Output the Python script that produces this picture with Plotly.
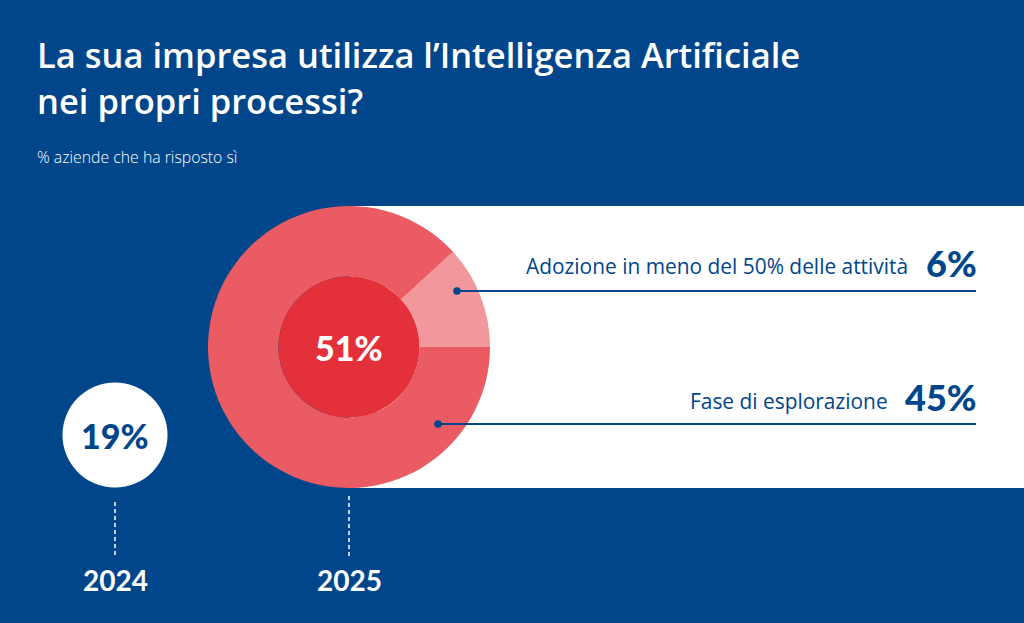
import plotly.graph_objects as go

# ---- data ----
years = ["2024", "2025"]
totals = [19, 51]  # % aziende che ha risposto sì
breakdown_labels = ["Adozione in meno del 50% delle attività", "Fase di esplorazione"]
breakdown_values = [6, 45]

title_lines = ["La sua impresa utilizza l’Intelligenza Artificiale", "nei propri processi?"]
subtitle = "% aziende che ha risposto sì"

# ---- styling / geometry ----
W, H = 1024, 623
BLUE = "#01468B"
RED_MAIN = "#EA5B63"
RED_LIGHT = "#F2979C"
RED_CORE = "#E4303A"
WHITE = "#FFFFFF"
FONT = "Open Sans"
NUM_FONT = "Lato"

R_MAX = 141.0          # pixel radius for the largest total
CENTERS = [(115, 435), (349, 347)]  # pixel centres of the 2024 / 2025 discs
HOLE = 0.5


def fx(x):
    return x / W


def fy(y):
    return 1 - y / H


def domain(cx, cy, r):
    return dict(x=[fx(cx - r), fx(cx + r)], y=[fy(cy + r), fy(cy - r)])


fig = go.Figure()

# 2024 disc (radius proportional to value)
r24 = R_MAX * totals[0] / totals[1]
cx24, cy24 = CENTERS[0]
fig.add_trace(go.Pie(values=[totals[0]], labels=[years[0]], domain=domain(cx24, cy24, r24),
                     marker=dict(colors=[WHITE], line=dict(width=0)), textinfo="none",
                     hoverinfo="skip", showlegend=False, sort=False))

# 2025 ring (breakdown)
cx25, cy25 = CENTERS[1]
share_first = breakdown_values[0] / sum(breakdown_values) * 360
rotation = 68.7 - share_first / 2
fig.add_trace(go.Pie(values=breakdown_values, labels=breakdown_labels,
                     domain=domain(cx25, cy25, R_MAX), hole=HOLE,
                     marker=dict(colors=[RED_LIGHT, RED_MAIN], line=dict(width=0)),
                     textinfo="none", hoverinfo="skip", showlegend=False, sort=False,
                     direction="clockwise", rotation=rotation))

# 2025 core disc
fig.add_trace(go.Pie(values=[totals[1]], labels=[years[1]],
                     domain=domain(cx25, cy25, R_MAX * HOLE),
                     marker=dict(colors=[RED_CORE], line=dict(width=0)), textinfo="none",
                     hoverinfo="skip", showlegend=False, sort=False))

shapes = []
# white panel behind the 2025 ring
shapes.append(dict(type="rect", xref="paper", yref="paper", layer="below",
                   x0=fx(350), x1=fx(1024), y0=fy(488), y1=fy(206),
                   fillcolor=WHITE, line=dict(width=0)))

# leader lines and dots
leaders = [(457, 291), (438, 424)]
for (dx, dy) in leaders:
    shapes.append(dict(type="line", xref="paper", yref="paper", layer="above",
                       x0=fx(dx), x1=fx(976), y0=fy(dy), y1=fy(dy),
                       line=dict(color=BLUE, width=2)))
    rr = 3.8
    shapes.append(dict(type="circle", xref="paper", yref="paper", layer="above",
                       x0=fx(dx - rr), x1=fx(dx + rr), y0=fy(dy + rr), y1=fy(dy - rr),
                       fillcolor=BLUE, line=dict(width=0)))

# dashed year ticks
for (x, y0) in [(115, 502), (349, 496)]:
    shapes.append(dict(type="line", xref="paper", yref="paper", layer="above",
                       x0=fx(x), x1=fx(x), y0=fy(y0), y1=fy(557),
                       line=dict(color=WHITE, width=1.5, dash="4px,3px")))

ann = []


def text(x, y, s, size, color, xanchor="center", weight=400, family=FONT):
    ann.append(dict(x=fx(x), y=fy(y), xref="paper", yref="paper", text=s, showarrow=False,
                    xanchor=xanchor, yanchor="middle",
                    font=dict(family=family, size=size, color=color, weight=weight)))


text(35, 54, title_lines[0], 34.5, WHITE, xanchor="left", weight=600)
text(35, 100, title_lines[1], 34.5, WHITE, xanchor="left", weight=600)
text(35, 157, subtitle, 15.8, WHITE, xanchor="left", weight=300)

text(910, 266, breakdown_labels[0], 20.9, BLUE, xanchor="right")
text(979, 263, f"{breakdown_values[0]}%", 36, BLUE, xanchor="right", weight=900, family=NUM_FONT)
text(890, 401, breakdown_labels[1], 20.9, BLUE, xanchor="right")
text(979, 397, f"{breakdown_values[1]}%", 36, BLUE, xanchor="right", weight=900, family=NUM_FONT)

text(cx25, cy25, f"{totals[1]}%", 34, WHITE, weight=900, family=NUM_FONT)
text(cx24, cy24, f"{totals[0]}%", 34, BLUE, weight=900, family=NUM_FONT)

for x, yr in zip([CENTERS[0][0], CENTERS[1][0]], years):
    text(x, 580, yr, 28, WHITE, weight=700, family=NUM_FONT)

fig.update_layout(width=W, height=H, margin=dict(l=0, r=0, t=0, b=0),
                  paper_bgcolor=BLUE, plot_bgcolor=BLUE,
                  shapes=shapes, annotations=ann, showlegend=False)

fig.write_html("out.html", config={"displayModeBar": False},
               post_script="document.body.style.margin='0';document.body.style.overflow='hidden';")
